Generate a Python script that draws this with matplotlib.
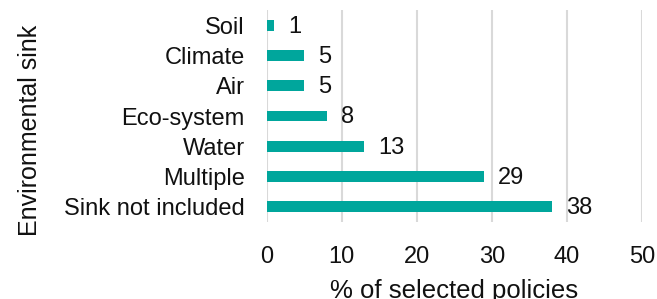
import matplotlib.pyplot as plt

plt.rcParams['font.family'] = ['Liberation Sans', 'DejaVu Sans']

categories = ["Soil", "Climate", "Air", "Eco-system", "Water", "Multiple", "Sink not included"]
values = [1, 5, 5, 8, 13, 29, 38]
xticks = [0, 10, 20, 30, 40, 50]

fig = plt.figure(figsize=(6.57, 2.99), dpi=100)
ax = fig.add_axes([0.406, 0.2575, 0.571, 0.709])

ypos = list(range(len(categories)))
bars = ax.barh(ypos, values, height=0.36, color="#00A69C", zorder=3)
for y, v in zip(ypos, values):
    ax.annotate(str(v), (v, y), xytext=(10, -1), textcoords="offset points",
                va="center", ha="left", fontsize=17, color="#111111")

ax.set_xlim(0, 50)
ax.set_ylim(len(categories) - 0.5, -0.5)
ax.set_xticks(xticks)
ax.set_yticks(ypos)
ax.set_yticklabels(categories)
ax.tick_params(axis="both", length=0, labelsize=17, colors="#111111")
ax.tick_params(axis="x", pad=17)
ax.tick_params(axis="y", pad=16)
ax.grid(axis="x", color="#D9D9D9", linewidth=1.5, zorder=0)
for s in ax.spines.values():
    s.set_visible(False)

ax.set_xlabel("% of selected policies", fontsize=18.5, labelpad=8, color="#111111")
fig.text(0.046, 0.565, "Environmental sink", rotation=90, fontsize=18,
         va="center", ha="center", color="#111111")

fig.savefig("out.png", dpi=100)
